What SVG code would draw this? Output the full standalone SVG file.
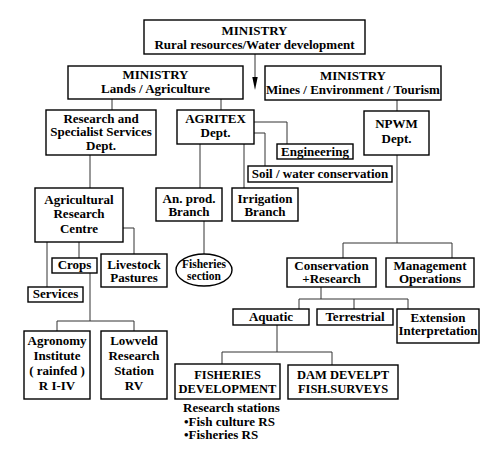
<svg xmlns="http://www.w3.org/2000/svg" width="500" height="459" viewBox="0 0 500 459">
<style>
.bx{fill:#fff;stroke:#000;stroke-width:1.4}
.ln{fill:none;stroke:#333;stroke-width:1}
text{font-family:"Liberation Serif","Times New Roman",serif;font-weight:bold;font-size:13px;fill:#000;text-anchor:middle}
.s{font-size:11.5px}
.m{font-size:12.5px}
.l{text-anchor:start}
</style>
<rect width="500" height="459" fill="#fff"/>
<g id="connectors">
<path class="ln" d="M255,54V78"/>
<polygon points="252.3,77 257.7,77 255,90" fill="#000"/>
<path class="ln" d="M112,99V110M221,99V110M397,100V111"/>
<path class="ln" d="M254,122H287V144M254,133H265V166M200,144V188M244,144V188M204,221V254"/>
<path class="ln" d="M90,155V188M79,242V258M47,242V287M123,228H134V254"/>
<path class="ln" d="M90,273V321M57,321H134M57,321V331M134,321V331"/>
<path class="ln" d="M397,155V243M343,243H452M343,243V258M452,243V258"/>
<path class="ln" d="M321,287V299M299,299H408M299,299V309M354,299V309M408,299V309"/>
<path class="ln" d="M277,325V352M222,352H332M222,352V364M332,352V365"/>
</g>
<g id="min-rural"><rect class="bx" x="144" y="20" width="221" height="34"/><text x="254.5" y="35">MINISTRY</text><text x="254.5" y="48.5">Rural resources/Water development</text></g>
<g id="min-lands"><rect class="bx" x="68" y="66" width="175" height="33"/><text x="155.5" y="79">MINISTRY</text><text x="155.5" y="93">Lands / Agriculture</text></g>
<g id="min-mines"><rect class="bx" x="265" y="66" width="176" height="34"/><text x="353" y="80">MINISTRY</text><text x="353" y="93.5">Mines / Environment / Tourism</text></g>
<g id="research"><rect class="bx" x="46" y="110" width="110" height="45"/><text x="101" y="122.5">Research and</text><text x="101" y="136">Specialist  Services</text><text x="101" y="149.5">Dept.</text></g>
<g id="agritex"><rect class="bx" x="177" y="110" width="77" height="34"/><text x="215.5" y="123">AGRITEX</text><text x="215.5" y="137">Dept.</text></g>
<g id="npwm"><rect class="bx" x="364" y="111" width="65" height="44"/><text x="396.5" y="128">NPWM</text><text x="396.5" y="143">Dept.</text></g>
<g id="engineering"><rect class="bx" x="277" y="144" width="76" height="15"/><text x="315" y="155.5">Engineering</text></g>
<g id="soil"><rect class="bx" x="248" y="166" width="144" height="16"/><text x="320" y="178">Soil / water conservation</text></g>
<g id="anprod"><rect class="bx" x="156" y="188" width="66" height="33"/><text x="189" y="202.5">An. prod.</text><text x="189" y="216">Branch</text></g>
<g id="irrigation"><rect class="bx" x="232" y="188" width="66" height="33"/><text x="265" y="202.5">Irrigation</text><text x="265" y="216">Branch</text></g>
<g id="fisheries-section"><ellipse class="bx" cx="204" cy="270" rx="28" ry="16"/><text class="s" x="204" y="268">Fisheries</text><text class="s" x="204" y="280">section</text></g>
<g id="arc"><rect class="bx" x="35" y="188" width="88" height="54"/><text x="79" y="204">Agricultural</text><text x="79" y="218">Research</text><text x="79" y="233">Centre</text></g>
<g id="crops"><rect class="bx" x="52" y="258" width="45" height="15"/><text x="74.5" y="269">Crops</text></g>
<g id="livestock"><rect class="bx" x="101" y="254" width="66" height="33"/><text x="134" y="268.5">Livestock</text><text x="134" y="282">Pastures</text></g>
<g id="services"><rect class="bx" x="28" y="287" width="55" height="15"/><text x="55.5" y="298">Services</text></g>
<g id="agronomy"><rect class="bx" x="24" y="331" width="66" height="68"/><text x="57" y="345">Agronomy</text><text x="57" y="360">Institute</text><text x="57" y="374.5">( rainfed )</text><text x="57" y="390">R I-IV</text></g>
<g id="lowveld"><rect class="bx" x="101" y="331" width="66" height="68"/><text x="134" y="345">Lowveld</text><text x="134" y="359.5">Research</text><text x="134" y="374.5">Station</text><text x="134" y="390">RV</text></g>
<g id="conservation"><rect class="bx" x="287" y="258" width="89" height="29"/><text x="331.5" y="269.5">Conservation</text><text x="331.5" y="283">+Research</text></g>
<g id="management"><rect class="bx" x="386" y="258" width="88" height="29"/><text x="430" y="269.5">Management</text><text x="430" y="283">Operations</text></g>
<g id="aquatic"><rect class="bx" x="233" y="309" width="76" height="16"/><text x="271" y="320.5">Aquatic</text></g>
<g id="terrestrial"><rect class="bx" x="317" y="309" width="76" height="16"/><text x="355" y="320.5">Terrestrial</text></g>
<g id="extension"><rect class="bx" x="397" y="309" width="82" height="34"/><text x="438" y="321.5">Extension</text><text x="438" y="335">Interpretation</text></g>
<g id="fisheries-dev"><rect class="bx" x="175" y="364" width="105" height="35"/><text class="m" x="227.5" y="378.5">FISHERIES</text><text class="m" x="227.5" y="393">DEVELOPMENT</text></g>
<g id="dam"><rect class="bx" x="288" y="365" width="110" height="34"/><text class="m" x="343" y="379">DAM DEVELPT</text><text class="m" x="343" y="392.5">FISH.SURVEYS</text></g>
<g id="research-stations"><text class="l" x="183" y="412">Research stations</text><text class="l" x="184" y="425.5">•Fish culture RS</text><text class="l" x="184" y="439">•Fisheries RS</text></g>
</svg>
